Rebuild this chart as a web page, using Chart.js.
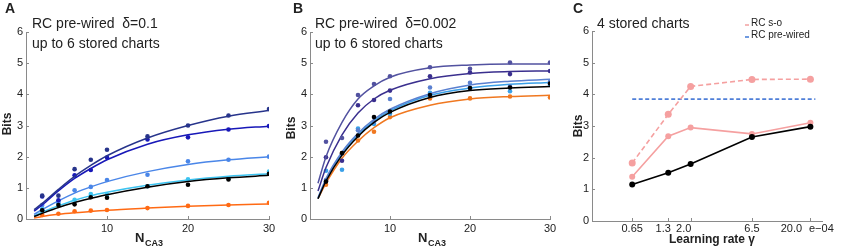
<!DOCTYPE html>
<html>
<head>
<meta charset="utf-8">
<script src="https://cdn.jsdelivr.net/npm/chart.js@4.4.1/dist/chart.umd.min.js"></script>
<style>
html, body { margin: 0; padding: 0; background: #fff; }
#wrap { position: relative; width: 843px; height: 252px; overflow: hidden; }
canvas { position: absolute; top: 0; }
</style>
</head>
<body>
<div id="wrap">
  <canvas id="panelA" width="282" height="252" style="left:0px"></canvas>
  <canvas id="panelB" width="284" height="252" style="left:282px"></canvas>
  <canvas id="panelC" width="277" height="252" style="left:566px"></canvas>
</div>
<script>
// N_CA3 where the simulations were run, and where the fitted curves were read
const nData = [2, 4, 6, 8, 10, 15, 20, 25, 30];
const nFit = [1, 2, 4, 6, 8, 10, 15, 20, 25, 30];
const nTicks = [10, 20, 30];

// panel A, delta = 0.1
const aPts1 = [0.75, 0.75, 1.6, 1.9, 2.22, 2.65, 3.0, 3.32, 3.53];
const aPts2 = [0.72, 0.6, 1.4, 1.57, 1.97, 2.55, 2.62, 2.87, 2.98];
const aPts3 = [0.45, 0.55, 0.92, 1.03, 1.25, 1.42, 1.85, 1.9, 2.0];
const aPts4 = [0.32, 0.5, 0.62, 0.8, 0.78, 1.05, 1.27, 1.3, 1.52];
const aPts5 = [0.28, 0.45, 0.47, 0.7, 0.68, 1.05, 1.1, 1.27, 1.45];
const aPts6 = [0.13, 0.17, 0.25, 0.27, 0.29, 0.35, 0.42, 0.45, 0.52];
const aFit1 = [0.3, 0.5, 0.95, 1.37, 1.72, 2.03, 2.6, 3.0, 3.3, 3.48];
const aFit2 = [0.25, 0.45, 0.9, 1.3, 1.62, 1.9, 2.4, 2.7, 2.88, 2.98];
const aFit3 = [0.15, 0.3, 0.58, 0.83, 1.03, 1.2, 1.52, 1.75, 1.9, 2.0];
const aFit4 = [0.1, 0.22, 0.42, 0.6, 0.75, 0.86, 1.08, 1.25, 1.37, 1.45];
const aFit5 = [0.08, 0.18, 0.37, 0.53, 0.66, 0.78, 1.02, 1.2, 1.32, 1.4];
const aFit6 = [0.03, 0.08, 0.15, 0.2, 0.24, 0.28, 0.35, 0.41, 0.45, 0.48];

// panel B, delta = 0.002
const bPts1 = [2.48, 2.6, 3.98, 4.33, 4.58, 4.87, 4.82, 5.02, 5.02];
const bPts2 = [1.98, 1.87, 3.65, 3.82, 4.12, 4.58, 4.7, 4.65, 4.75];
const bPts3 = [1.25, 2.1, 2.85, 3.12, 3.85, 4.22, 4.37, 4.25, 4.4];
const bPts4 = [1.55, 1.58, 2.9, 3.05, 3.38, 4.05, 4.2, 4.1, 4.3];
const bPts5 = [1.2, 2.12, 2.68, 3.27, 3.45, 3.98, 4.2, 4.22, 4.35];
const bPts6 = [1.1, 2.12, 2.52, 2.8, 3.27, 3.87, 3.87, 3.93, 3.9];
const bFit1 = [1.15, 2.0, 3.1, 3.85, 4.27, 4.55, 4.85, 4.94, 4.97, 4.97];
const bFit2 = [0.9, 1.65, 2.7, 3.4, 3.85, 4.13, 4.5, 4.67, 4.73, 4.75];
const bFit3 = [0.68, 1.3, 2.15, 2.75, 3.2, 3.52, 4.02, 4.3, 4.42, 4.48];
const bFit4 = [0.66, 1.26, 2.1, 2.7, 3.15, 3.47, 3.97, 4.2, 4.32, 4.38];
const bFit5 = [0.65, 1.22, 2.05, 2.65, 3.1, 3.42, 3.9, 4.12, 4.2, 4.25];
const bFit6 = [0.65, 1.15, 1.95, 2.5, 2.93, 3.25, 3.65, 3.85, 3.93, 3.97];

// panel C, 4 stored charts
const gamma = [0.65, 1.3, 2.0, 6.5, 20.0];
const gammaLabels = ['0.65', '1.3', '2.0', '6.5', '20.0'];
const soDashed = [1.83, 3.37, 4.25, 4.47, 4.48];
const soSolid = [1.4, 2.68, 2.95, 2.75, 3.1];
const soBlack = [1.15, 1.52, 1.8, 2.65, 2.98];
const prewiredGamma = [0.65, 22];
const prewiredBits = [3.85, 3.85];

const bitTicks = [0, 1, 2, 3, 4, 5, 6];

const axisGrey = '#8a8a8a';
const txt = '#222';
const fam = "'Liberation Sans', Arial, Helvetica, sans-serif";
Chart.defaults.font.family = fam;

function xy(xs, ys) {
    return xs.map((x, i) => ({ x: x, y: ys[i] }));
}

function fitLine(ys, color) {
    return {
        data: xy(nFit, ys),
        borderColor: color,
        borderWidth: 1.5,
        pointRadius: 0,
        cubicInterpolationMode: 'monotone',
        fill: false
    };
}

function dots(ys, color) {
    return {
        data: xy(nData, ys),
        showLine: false,
        pointRadius: 2.3,
        pointBorderWidth: 0,
        pointBackgroundColor: color,
        borderColor: color
    };
}

// inward MATLAB-style ticks plus free text
function decor(texts) {
    return {
        id: 'decor',
        afterDraw(chart) {
            const ctx = chart.ctx;
            const xs = chart.scales.x, ys = chart.scales.y, a = chart.chartArea;
            ctx.save();
            ctx.strokeStyle = axisGrey;
            ctx.lineWidth = 1;
            ctx.setLineDash([]);
            ctx.beginPath();
            xs.ticks.forEach(t => {
                const px = Math.round(xs.getPixelForValue(t.value)) + 0.5;
                ctx.moveTo(px, a.bottom);
                ctx.lineTo(px, a.bottom - 3);
            });
            ys.ticks.forEach(t => {
                const py = Math.round(ys.getPixelForValue(t.value)) + 0.5;
                ctx.moveTo(a.left, py);
                ctx.lineTo(a.left + 3, py);
            });
            ctx.stroke();

            texts.forEach(t => {
                if (t.swatch) {
                    ctx.strokeStyle = t.swatch;
                    ctx.lineWidth = 2;
                    ctx.beginPath();
                    ctx.moveTo(t.x, t.y);
                    ctx.lineTo(t.x + 4, t.y);
                    ctx.stroke();
                    return;
                }
                ctx.save();
                ctx.fillStyle = t.color || txt;
                ctx.font = t.font;
                ctx.textAlign = t.align || 'left';
                ctx.textBaseline = 'middle';
                ctx.translate(t.x, t.y);
                if (t.rot) ctx.rotate(t.rot);
                ctx.fillText(t.text, 0, 0);
                ctx.restore();
            });
            if (chart.canvas.id === 'panelC') {
                // labels nudged as in the original figure
                const shift = [0, -5, -7, 0, -19];
                ctx.fillStyle = txt;
                ctx.font = '11px ' + fam;
                ctx.textAlign = 'center';
                ctx.textBaseline = 'middle';
                gamma.forEach((g, i) => {
                    ctx.fillText(gammaLabels[i], xs.getPixelForValue(g) + shift[i], 229);
                });
            }
            ctx.restore();
        }
    };
}

function options(p) {
    return {
        responsive: false,
        animation: false,
        layout: { padding: { left: 0, right: p.right, top: p.top, bottom: 0 } },
        plugins: { legend: { display: false }, tooltip: { enabled: false } },
        scales: {
            x: {
                type: p.xType,
                min: p.xMin,
                max: p.xMax,
                grid: { display: false, drawTicks: false },
                border: { display: true, color: axisGrey, width: 1 },
                ticks: { display: p.xLabels, color: txt, padding: 3, font: { size: 11 }, maxRotation: 0 },
                afterBuildTicks: s => { s.ticks = p.xTicks.map(v => ({ value: v })); },
                afterFit: s => { s.height = 252 - p.bottom; }
            },
            y: {
                min: 0,
                max: 6,
                grid: { display: false, drawTicks: false },
                border: { display: true, color: axisGrey, width: 1 },
                ticks: { color: txt, padding: 3, font: { size: 11 } },
                afterBuildTicks: s => { s.ticks = bitTicks.map(v => ({ value: v })); },
                afterFit: s => { s.width = p.left; }
            }
        }
    };
}

function nLabel(x) {
    return [
        { text: 'N', x: x, y: 238, font: 'bold 13px ' + fam },
        { text: 'CA3', x: x + 10, y: 244, font: 'bold 9px ' + fam }
    ];
}

new Chart(document.getElementById('panelA'), {
    type: 'line',
    data: {
        datasets: [
            fitLine(aFit5, '#000000'), dots(aPts5, '#000000'),
            fitLine(aFit1, '#27348b'), dots(aPts1, '#27348b'),
            fitLine(aFit2, '#1818b8'), dots(aPts2, '#1818b8'),
            fitLine(aFit3, '#4a86e8'), dots(aPts3, '#4a86e8'),
            fitLine(aFit4, '#3cc3f0'), dots(aPts4, '#3cc3f0'),
            fitLine(aFit6, '#ff6a14'), dots(aPts6, '#ff6a14')
        ]
    },
    options: options({ xType: 'linear', xMin: 0, xMax: 30, xTicks: nTicks, xLabels: true,
        left: 26, right: 13, top: 32, bottom: 219 }),
    plugins: [decor([
        { text: 'A', x: 5, y: 9, font: 'bold 14px ' + fam },
        { text: 'RC pre-wired  \u03b4=0.1', x: 32, y: 24, font: '14px ' + fam },
        { text: 'up to 6 stored charts', x: 32, y: 44, font: '14px ' + fam },
        { text: 'Bits', x: 8, y: 124, font: 'bold 12px ' + fam, align: 'center', rot: -Math.PI / 2 }
    ].concat(nLabel(135)))]
});

new Chart(document.getElementById('panelB'), {
    type: 'line',
    data: {
        datasets: [
            fitLine(bFit5, '#000000'), dots(bPts5, '#000000'),
            fitLine(bFit1, '#5252a0'), dots(bPts1, '#5252a0'),
            fitLine(bFit2, '#3a2f8e'), dots(bPts2, '#3a2f8e'),
            fitLine(bFit3, '#5a80d0'), dots(bPts3, '#5a80d0'),
            fitLine(bFit4, '#3aa0e8'), dots(bPts4, '#3aa0e8'),
            fitLine(bFit6, '#f07820'), dots(bPts6, '#f07820')
        ]
    },
    options: options({ xType: 'linear', xMin: 0, xMax: 30, xTicks: nTicks, xLabels: true,
        left: 28, right: 16, top: 32, bottom: 219 }),
    plugins: [decor([
        { text: 'B', x: 11, y: 9, font: 'bold 14px ' + fam },
        { text: 'RC pre-wired  \u03b4=0.002', x: 33, y: 24, font: '14px ' + fam },
        { text: 'up to 6 stored charts', x: 33, y: 44, font: '14px ' + fam },
        { text: 'Bits', x: 10, y: 128, font: 'bold 12px ' + fam, align: 'center', rot: -Math.PI / 2 }
    ].concat(nLabel(136)))]
});

new Chart(document.getElementById('panelC'), {
    type: 'line',
    data: {
        datasets: [
            { data: xy(gamma, soBlack), borderColor: '#000', borderWidth: 1.6, pointRadius: 3,
              pointBorderWidth: 0, pointBackgroundColor: '#000' },
            { data: xy(gamma, soSolid), borderColor: '#f5a0a0', borderWidth: 1.6, pointRadius: 3,
              pointBorderWidth: 0, pointBackgroundColor: '#f5a0a0' },
            { data: xy(gamma, soDashed), borderColor: '#f5a0a0', borderWidth: 1.6, borderDash: [5, 3],
              pointRadius: 3.5, pointBorderWidth: 0, pointBackgroundColor: '#f5a0a0' },
            { data: xy(prewiredGamma, prewiredBits), borderColor: '#4f7fd8', borderWidth: 1.6,
              borderDash: [4, 2.5], pointRadius: 0 }
        ]
    },
    options: options({ xType: 'logarithmic', xMin: 0.32, xMax: 25, xTicks: gamma, xLabels: false,
        left: 26, right: 21, top: 31, bottom: 221 }),
    plugins: [decor([
        { text: 'C', x: 7, y: 9, font: 'bold 14px ' + fam },
        { text: '4 stored charts', x: 31, y: 24, font: '14px ' + fam },
        { text: 'Bits', x: 13, y: 126, font: 'bold 12px ' + fam, align: 'center', rot: -Math.PI / 2 },
        { swatch: '#f5b8b8', x: 179, y: 25 },
        { text: 'RC s-o', x: 185, y: 23, font: '10px ' + fam },
        { swatch: '#6f9ae0', x: 179, y: 37 },
        { text: 'RC pre-wired', x: 185, y: 35, font: '10px ' + fam },
        { text: 'Learning rate \u03b3', x: 146, y: 240, font: 'bold 12px ' + fam, align: 'center' },
        { text: 'e\u221204', x: 243, y: 229, font: '11px ' + fam }
    ])]
});
</script>
</body>
</html>
